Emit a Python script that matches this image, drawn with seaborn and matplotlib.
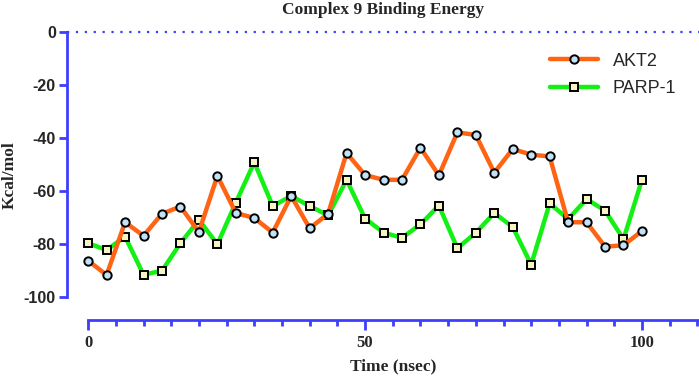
"""
Complex 9 binding energy over simulation time, AKT2 vs PARP-1.
"""

import numpy as np
import pandas as pd
import seaborn as sns
import matplotlib.pyplot as plt
from matplotlib.ticker import MultipleLocator

# -------------------------------------------------
# Data
# -------------------------------------------------

time_ns = np.arange(31) * 10 / 3

akt2 = [
    -86.3, -91.7, -71.8, -76.9, -68.6, -65.9, -75.5, -54.3, -68.3, -70.2,
    -75.7, -61.9, -74.1, -68.6, -45.7, -54.0, -55.8, -55.8, -43.7, -54.1,
    -37.9, -38.9, -53.1, -44.2, -46.3, -47.0, -71.8, -71.8, -81.0, -80.5,
    -75.1,
]

parp1 = [
    -79.7, -82.3, -77.2, -91.6, -90.1, -79.7, -70.9, -80.1, -64.4, -49.2,
    -65.7, -61.9, -65.7, -69.2, -55.8, -70.4, -75.7, -77.7, -72.6, -65.5,
    -81.6, -75.8, -68.3, -73.6, -87.8, -64.7, -70.6, -63.1, -67.4, -78.2,
    -55.8,
]

y_ticks = [0, -20, -40, -60, -80, -100]
x_ticks = [0, 50, 100]

# -------------------------------------------------
# Style
# -------------------------------------------------

sns.set_style("white")
plt.rcParams['font.family'] = ['Liberation Sans', 'DejaVu Sans']
plt.rcParams['axes.unicode_minus'] = False

AXIS_BLUE = "#3d3dff"
ORANGE = "#ff6414"
GREEN = "#14f014"

fig = plt.figure(figsize=(6.99, 3.77), dpi=100)
ax = fig.add_axes([0.096, 0.151, 0.904, 0.768])

df = pd.DataFrame({"Time": time_ns, "AKT2": akt2, "PARP-1": parp1})

sns.lineplot(
    data=df, x="Time", y="AKT2", ax=ax, color=ORANGE, linewidth=3.2,
    marker="o", markersize=6, markerfacecolor="#c4e2f6",
    markeredgecolor="black", markeredgewidth=1.4, label="AKT2",
    clip_on=False, zorder=4,
)
sns.lineplot(
    data=df, x="Time", y="PARP-1", ax=ax, color=GREEN, linewidth=3.2,
    marker="s", markersize=5.5, markerfacecolor="#f6f3c4",
    markeredgecolor="black", markeredgewidth=1.4, label="PARP-1",
    clip_on=False, zorder=3,
)

ax.axhline(0, color=AXIS_BLUE, linestyle=(0, (1, 3)), linewidth=1.6,
           clip_on=False, zorder=2)

ax.set_xlim(-3.8, 110.3)
ax.set_ylim(-108.7, 0.5)

ax.set_yticks(y_ticks)
ax.set_xticks(x_ticks)
ax.xaxis.set_minor_locator(MultipleLocator(5))

for side in ["top", "right"]:
    ax.spines[side].set_visible(False)
for side in ["left", "bottom"]:
    ax.spines[side].set_color(AXIS_BLUE)
    ax.spines[side].set_linewidth(2.0)
ax.spines["left"].set_bounds(-100, 0)
ax.spines["bottom"].set_bounds(0, 110.3)

ax.tick_params(axis="y", which="major", left=True, direction="out",
               length=6, width=2.0, color=AXIS_BLUE, labelsize=11.5, pad=2)
ax.tick_params(axis="x", which="major", bottom=True, direction="out",
               length=7, width=2.0, color=AXIS_BLUE, labelsize=12, pad=4)
ax.tick_params(axis="x", which="minor", bottom=True, direction="out",
               length=4, width=2.0, color=AXIS_BLUE)

for lab in ax.get_yticklabels():
    lab.set_fontweight("bold")
for lab in ax.get_xticklabels():
    lab.set_fontfamily("Liberation Serif")
    lab.set_fontweight("bold")

ax.set_xlabel("Time (nsec)", fontfamily="Liberation Serif",
              fontweight="bold", fontsize=12.5)
ax.xaxis.set_label_coords(0.516, -0.133)
ax.set_ylabel("Kcal/mol", fontfamily="Liberation Serif",
              fontweight="bold", fontsize=12.5)
ax.yaxis.set_label_coords(-0.078, 0.5)

fig.text(0.548, 0.995, "Complex 9 Binding Energy", ha="center", va="top",
         fontfamily="Liberation Serif", fontweight="bold", fontsize=12.5)

ax.legend(loc="upper right", bbox_to_anchor=(0.99, 0.98), frameon=False,
          fontsize=13, handlelength=2.7, labelspacing=0.6)

ax.grid(False)

fig.savefig("out.png", dpi=100)
